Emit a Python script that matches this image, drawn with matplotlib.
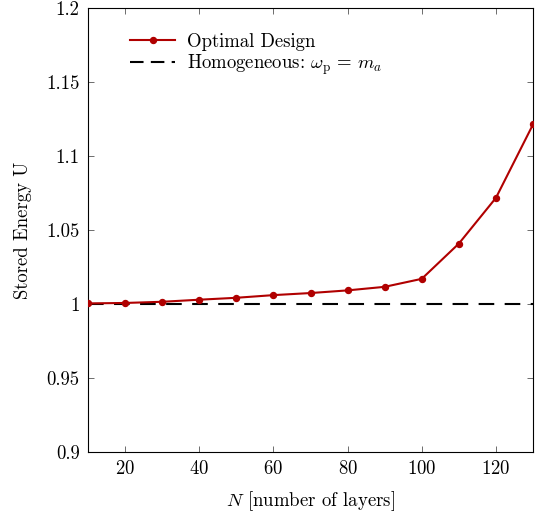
import matplotlib
matplotlib.use("Agg")
import matplotlib.pyplot as plt

plt.rcParams["font.family"] = "serif"
plt.rcParams["font.serif"] = ["cmr10", "DejaVu Serif"]
plt.rcParams["mathtext.fontset"] = "cm"
plt.rcParams["axes.formatter.use_mathtext"] = True
plt.rcParams["font.size"] = 13.5

# data
layers = [10, 20, 30, 40, 50, 60, 70, 80, 90, 100, 110, 120, 130]
energy_optimal = [1.0004, 1.0007, 1.0015, 1.0029, 1.0042, 1.006, 1.0074,
                  1.0092, 1.0116, 1.017, 1.0408, 1.0717, 1.1213]
energy_homog = 1.0

x_ticks = [20, 40, 60, 80, 100, 120]
y_ticks = [0.9, 0.95, 1.0, 1.05, 1.1, 1.15, 1.2]
y_tick_labels = ["0.9", "0.95", "1", "1.05", "1.1", "1.15", "1.2"]

fig = plt.figure(figsize=(5.43, 5.12), dpi=100)
ax = fig.add_axes([88 / 543, 60 / 512, 445 / 543, 444 / 512])

red = "#b00000"
ax.plot(layers, energy_optimal, color=red, lw=1.5, marker="o", ms=4.3,
        label="Optimal Design", zorder=3)
ax.axhline(energy_homog, color="black", lw=1.5, ls=(0, (7.5, 5)),
           label=r"Homogeneous: $\omega_{\mathrm{p}}\,=\,m_a$", zorder=2)

ax.set_xlim(10, 130)
ax.set_ylim(0.9, 1.2)
ax.set_xticks(x_ticks)
ax.set_yticks(y_ticks)
ax.set_yticklabels(y_tick_labels)
ax.tick_params(direction="in", length=4, width=0.6, color="#555555",
               top=True, right=True, labelsize=13.5, pad=6)
for s in ax.spines.values():
    s.set_linewidth(0.8)

ax.set_xlabel(r"$N$ [number of layers]", fontsize=13.5, labelpad=8)
ax.set_ylabel("Stored Energy U", fontsize=13.5, labelpad=10)

leg = ax.legend(loc="upper left", frameon=False, fontsize=13.5,
                bbox_to_anchor=(0.07, 0.97), handlelength=2.4,
                handletextpad=0.6, labelspacing=0.1, borderaxespad=0.2)
leg.get_lines()[1].set_linestyle((0, (6.5, 3.5)))

fig.savefig("out.png", dpi=100)
